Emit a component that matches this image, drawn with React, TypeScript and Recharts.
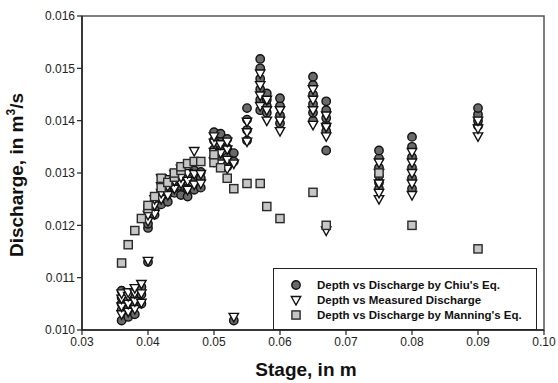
import React from 'react';
import {
  ScatterChart,
  Scatter,
  XAxis,
  YAxis,
  ReferenceArea,
} from 'recharts';

// stage (m) columns and the discharge values read in each column
const chiuStages = [0.036, 0.037, 0.038, 0.039, 0.040, 0.041, 0.042, 0.043, 0.044, 0.045, 0.046, 0.047, 0.048, 0.050, 0.051, 0.052, 0.053, 0.055, 0.057, 0.058, 0.060, 0.065, 0.067, 0.075, 0.080, 0.090];
const chiuQ = [
  [0.01018, 0.01038, 0.0105, 0.01062, 0.01075],
  [0.01025, 0.0104, 0.01058, 0.0107],
  [0.0103, 0.01048, 0.01062, 0.01075],
  [0.0105, 0.01068, 0.01082],
  [0.0113, 0.01195, 0.01203],
  [0.0122, 0.01232],
  [0.0124, 0.01252, 0.01265],
  [0.01245, 0.0126, 0.01272],
  [0.01262, 0.01272, 0.01283],
  [0.01258, 0.01275, 0.0129],
  [0.01255, 0.0127, 0.0129],
  [0.01268, 0.01285, 0.01305],
  [0.01272, 0.0129, 0.01302],
  [0.0133, 0.01345, 0.01362, 0.01378],
  [0.01328, 0.01345, 0.01362, 0.01375],
  [0.01312, 0.0133, 0.01348, 0.01365],
  [0.01018, 0.01322, 0.01338],
  [0.01362, 0.01382, 0.01402, 0.01424],
  [0.0142, 0.0144, 0.0146, 0.0148, 0.015, 0.01518],
  [0.01415, 0.01428, 0.0144, 0.01452],
  [0.01395, 0.0141, 0.01428, 0.01443],
  [0.014, 0.01415, 0.01432, 0.0145, 0.01468, 0.01484],
  [0.01343, 0.0138, 0.01392, 0.01405, 0.0142, 0.01437],
  [0.0127, 0.01282, 0.01295, 0.0131, 0.01328, 0.01343],
  [0.0127, 0.0129, 0.0131, 0.0133, 0.0135, 0.01369],
  [0.0139, 0.014, 0.01412, 0.01424],
];

const measuredStages = chiuStages;
const measuredQ = [
  [0.0103, 0.01045, 0.0106, 0.0107],
  [0.01035, 0.0105, 0.01065, 0.01072],
  [0.0104, 0.01055, 0.0107, 0.0108],
  [0.01052, 0.0107, 0.01088],
  [0.01132, 0.01208, 0.0122],
  [0.01222, 0.01238, 0.0125],
  [0.0125, 0.01262, 0.01275, 0.0129],
  [0.01258, 0.01275, 0.01288],
  [0.0127, 0.01285, 0.01298],
  [0.0128, 0.01292, 0.01308],
  [0.01268, 0.01285, 0.013],
  [0.01278, 0.01298, 0.01342],
  [0.0128, 0.01298],
  [0.01322, 0.0134, 0.01358, 0.0137],
  [0.01318, 0.01338, 0.01355],
  [0.01308, 0.01325, 0.01345, 0.0136],
  [0.01025, 0.01318],
  [0.0136, 0.01378, 0.01398],
  [0.01428, 0.01448, 0.01468, 0.0149],
  [0.014, 0.0142, 0.0144],
  [0.0138, 0.014, 0.0142],
  [0.01392, 0.0142, 0.0144, 0.0146],
  [0.0119, 0.0137, 0.01388, 0.0141],
  [0.0125, 0.01262, 0.0128, 0.013, 0.0132],
  [0.01258, 0.0128, 0.013, 0.0132, 0.0134],
  [0.0137, 0.01385, 0.014],
];

const manningStages = [0.036, 0.037, 0.038, 0.039, 0.040, 0.041, 0.042, 0.043, 0.044, 0.045, 0.046, 0.047, 0.048, 0.050, 0.051, 0.052, 0.053, 0.055, 0.057, 0.058, 0.060, 0.065, 0.067, 0.075, 0.080, 0.090];
const manningQ = [
  [0.01128],
  [0.01163],
  [0.0119],
  [0.01213],
  [0.01232, 0.01238],
  [0.01255],
  [0.01272, 0.0129],
  [0.01282],
  [0.01292, 0.013],
  [0.01305, 0.01312],
  [0.01318],
  [0.01322],
  [0.01322],
  [0.0132, 0.01335],
  [0.0131],
  [0.0129],
  [0.0127],
  [0.0128],
  [0.0128],
  [0.01236],
  [0.01213],
  [0.01263],
  [0.012],
  [0.013],
  [0.012],
  [0.01155],
];

const xTicks = [0.03, 0.04, 0.05, 0.06, 0.07, 0.08, 0.09, 0.1];
const yTicks = [0.01, 0.011, 0.012, 0.013, 0.014, 0.015, 0.016];

const legendLabels = [
  "Depth vs Discharge by Chiu's Eq.",
  'Depth vs Measured Discharge',
  "Depth vs Discharge by Manning's Eq.",
];

const toPoints = (stages: number[], values: number[][]) =>
  stages.flatMap((x, i) => values[i].map((y) => ({ x, y })));

const chiuData = toPoints(chiuStages, chiuQ);
const measuredData = toPoints(measuredStages, measuredQ);
const manningData = toPoints(manningStages, manningQ);

const FONT = '"Liberation Sans", Arial, sans-serif';

const Circle = ({ cx, cy }: any) => (
  <circle cx={cx} cy={cy} r={4.2} fill="#6a6a6a" stroke="#111" strokeWidth={1.4} />
);

const Triangle = ({ cx, cy }: any) => (
  <path
    d={`M${cx - 4.7},${cy - 3.5} L${cx + 4.7},${cy - 3.5} L${cx},${cy + 5} Z`}
    fill="#fff"
    stroke="#111"
    strokeWidth={1.4}
  />
);

const Square = ({ cx, cy }: any) => (
  <rect x={cx - 4.1} y={cy - 4.1} width={8.2} height={8.2} fill="#c6c6c6" stroke="#2a2a2a" strokeWidth={1.4} />
);

const YLabel = () => (
  <text
    x={23}
    y={175}
    transform="rotate(-90 23 175)"
    textAnchor="middle"
    fontFamily={FONT}
    fontWeight="bold"
    fontSize={19}
    fill="#111"
  >
    <tspan>Discharge, in m</tspan>
    <tspan dy={-8} fontSize={12}>3</tspan>
    <tspan dy={8}>/s</tspan>
  </text>
);

const XLabel = () => (
  <text x={306} y={376} textAnchor="middle" fontFamily={FONT} fontWeight="bold" fontSize={19} fill="#111">
    Stage, in m
  </text>
);

const LegendBox = () => {
  const markers = [Circle, Triangle, Square];
  return (
    <div
      style={{
        position: 'absolute',
        left: 273,
        top: 268,
        width: 262,
        height: 60,
        border: '1.5px solid #222',
        background: '#fff',
        fontFamily: FONT,
        fontWeight: 'bold',
        fontSize: 11.5,
        color: '#111',
      }}
    >
      {legendLabels.map((label, i) => {
        const Marker = markers[i];
        return (
          <div key={label} style={{ position: 'absolute', left: 16, top: 8 + i * 15, display: 'flex', alignItems: 'center', height: 15 }}>
            <svg width={12} height={12} style={{ marginRight: 15 }}>
              <Marker cx={6} cy={6} />
            </svg>
            <span style={{ whiteSpace: 'nowrap' }}>{label}</span>
          </div>
        );
      })}
    </div>
  );
};

const App: React.FC = () => {
  const tick = { fontSize: 12, fontFamily: FONT, fill: '#222' };
  return (
    <div style={{ position: 'absolute', left: 0, top: 0, width: 558, height: 383, background: '#fff' }}>
      <ScatterChart width={558} height={383} margin={{ top: 16, right: 14, bottom: 23, left: 20 }}>
        <XAxis
          type="number"
          dataKey="x"
          domain={[0.03, 0.1]}
          ticks={xTicks}
          tickFormatter={(v: number) => v.toFixed(2)}
          tick={tick}
          tickSize={5}
          axisLine={{ stroke: '#222', strokeWidth: 1.5 }}
          tickLine={{ stroke: '#222', strokeWidth: 1.2 }}
          allowDataOverflow
          height={30}
        />
        <YAxis
          type="number"
          dataKey="y"
          domain={[0.01, 0.016]}
          ticks={yTicks}
          tickFormatter={(v: number) => v.toFixed(3)}
          tick={tick}
          tickSize={5}
          axisLine={{ stroke: '#222', strokeWidth: 1.5 }}
          tickLine={{ stroke: '#222', strokeWidth: 1.2 }}
          allowDataOverflow
          width={62}
        />
        <ReferenceArea x1={0.03} x2={0.1} y1={0.01} y2={0.016} fill="none" stroke="#555" strokeWidth={1.5} />
        <Scatter name={legendLabels[0]} data={chiuData} shape={Circle} isAnimationActive={false} />
        <Scatter name={legendLabels[1]} data={measuredData} shape={Triangle} isAnimationActive={false} />
        <Scatter name={legendLabels[2]} data={manningData} shape={Square} isAnimationActive={false} />
        <YLabel />
        <XLabel />
      </ScatterChart>
      <LegendBox />
    </div>
  );
};

export default App;
